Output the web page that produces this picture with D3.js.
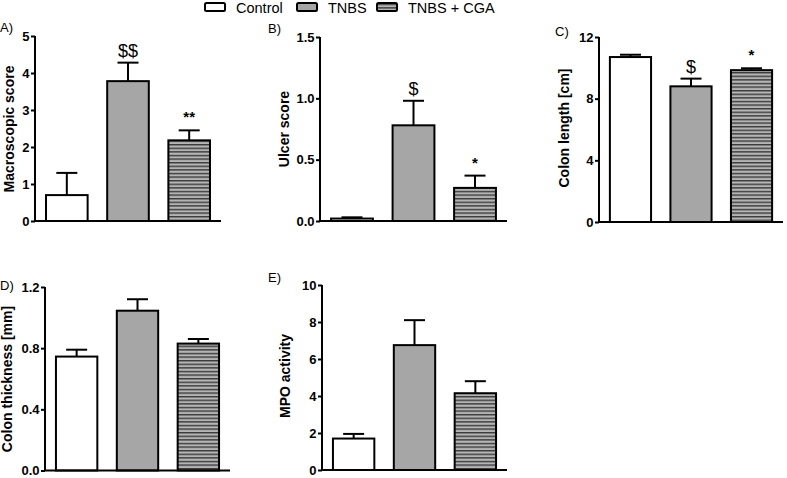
<!DOCTYPE html>
<html><head><meta charset="utf-8">
<script src="https://cdn.jsdelivr.net/npm/d3@7"></script>
<style>
body{margin:0;background:#fff;}
svg{display:block;font-family:"Liberation Sans",Arial,sans-serif;}
</style></head>
<body><svg id="c" width="787" height="478"></svg>
<script>
// ---- data ----
const groups = ["Control", "TNBS", "TNBS + CGA"];

const macroMean = [0.70, 3.78, 2.18];
const macroErr  = [0.60, 0.50, 0.27];
const macroMarks = ["", "$$", "**"];
const macroTicks = [0, 1, 2, 3, 4, 5];

const ulcerMean = [0.02, 0.78, 0.27];
const ulcerErr  = [0.01, 0.20, 0.10];
const ulcerMarks = ["", "$", "*"];
const ulcerTicks = [0, 0.5, 1.0, 1.5];

const lengthMean = [10.70, 8.80, 9.85];
const lengthErr  = [0.15, 0.50, 0.12];
const lengthMarks = ["", "$", "*"];
const lengthTicks = [0, 4, 8, 12];

const thickMean = [0.745, 1.045, 0.830];
const thickErr  = [0.045, 0.075, 0.030];
const thickMarks = ["", "", ""];
const thickTicks = [0, 0.4, 0.8, 1.2];

const mpoMean = [1.70, 6.75, 4.15];
const mpoErr  = [0.25, 1.35, 0.65];
const mpoMarks = ["", "", ""];
const mpoTicks = [0, 2, 4, 6, 8, 10];

const panelLabels = ["A)", "B)", "C)", "D)", "E)"];
const yTitles = ["Macroscopic score", "Ulcer score", "Colon length [cm]", "Colon thickness [mm]", "MPO activity"];

// ---- drawing ----
const svg = d3.select("#c");
const defs = svg.append("defs");
const pat = defs.append("pattern").attr("id","hatch").attr("patternUnits","userSpaceOnUse")
  .attr("width", 10).attr("height", 3.6);
pat.append("rect").attr("width",10).attr("height",3.6).attr("fill","#b4b4b4");
pat.append("rect").attr("y",0).attr("width",10).attr("height",1.4).attr("fill","#3a3a3a");

const fills = ["#ffffff", "#a6a6a6", "url(#hatch)"];

const panels = [
  {mean: macroMean, err: macroErr, marks: macroMarks, ticks: macroTicks, fmt: d3.format("d"),
   x0: 35, x1: 221, yTop: 36, yBot: 221, lab:[0,32], title:[14,129]},
  {mean: ulcerMean, err: ulcerErr, marks: ulcerMarks, ticks: ulcerTicks, fmt: d3.format(".1f"),
   x0: 320, x1: 507, yTop: 37, yBot: 221, lab:[268,33], title:[289,129]},
  {mean: lengthMean, err: lengthErr, marks: lengthMarks, ticks: lengthTicks, fmt: d3.format("d"),
   x0: 599, x1: 783, yTop: 37, yBot: 222, lab:[555,36], title:[569,128]},
  {mean: thickMean, err: thickErr, marks: thickMarks, ticks: thickTicks, fmt: d3.format(".1f"),
   x0: 45, x1: 230, yTop: 287, yBot: 470.5, lab:[0,290], title:[12,379]},
  {mean: mpoMean, err: mpoErr, marks: mpoMarks, ticks: mpoTicks, fmt: d3.format("d"),
   x0: 322, x1: 507, yTop: 285, yBot: 470, lab:[268,282], title:[290,376]}
];

panels.forEach((p, i) => {
  const g = svg.append("g");
  const x = d3.scaleBand().domain(groups).range([p.x0, p.x1]).paddingInner(0.32).paddingOuter(0.18);
  const y = d3.scaleLinear().domain([0, d3.max(p.ticks)]).range([p.yBot, p.yTop]);

  // error bars
  groups.forEach((k, j) => {
    const cx = x(k) + x.bandwidth()/2;
    const top = p.mean[j] + p.err[j];
    g.append("line").attr("x1",cx).attr("x2",cx).attr("y1",y(p.mean[j])).attr("y2",y(top))
      .attr("stroke","#000").attr("stroke-width",2);
    g.append("line").attr("x1",cx-10.5).attr("x2",cx+10.5).attr("y1",y(top)).attr("y2",y(top))
      .attr("stroke","#000").attr("stroke-width",2);
    if (p.marks[j]) {
      const big = p.marks[j].includes("$");
      g.append("text").attr("x",cx).attr("y", y(top) - (big ? 6 : 8))
        .attr("text-anchor","middle").attr("font-size", big ? 18 : 15)
        .attr("font-weight", big ? "normal" : "bold").text(p.marks[j]);
    }
  });

  // bars
  g.selectAll("rect.bar").data(groups).join("rect").attr("class","bar")
    .attr("x", d => x(d)).attr("width", x.bandwidth())
    .attr("y", (d, j) => y(p.mean[j])).attr("height", (d, j) => p.yBot - y(p.mean[j]))
    .attr("fill", (d, j) => fills[j]).attr("stroke","#000").attr("stroke-width",2);

  // y axis
  const ax = g.append("g").attr("transform",`translate(${p.x0},0)`)
    .call(d3.axisLeft(y).tickValues(p.ticks).tickFormat(p.fmt).tickSize(4).tickPadding(1.5));
  ax.select(".domain").attr("d", `M0,${p.yTop}V${p.yBot}`).attr("stroke-width",2);
  ax.selectAll(".tick line").attr("stroke-width",2);
  ax.selectAll(".tick text").attr("font-size",13).attr("font-weight","bold")
    .attr("font-family","Liberation Sans, Arial, sans-serif").attr("fill","#000");

  // x axis baseline
  g.append("line").attr("x1",p.x0-1).attr("x2",p.x1).attr("y1",p.yBot).attr("y2",p.yBot)
    .attr("stroke","#000").attr("stroke-width",2);

  // titles
  g.append("text").attr("transform",`translate(${p.title[0]},${p.title[1]}) rotate(-90)`)
    .attr("text-anchor","middle").attr("font-size",14).attr("font-weight","bold").text(yTitles[i]);
  g.append("text").attr("x",p.lab[0]).attr("y",p.lab[1]).attr("font-size",13).text(panelLabels[i]);
});

// legend
const legX = [205, 297, 377];
const legG = svg.append("g");
groups.forEach((k, j) => {
  legG.append("rect").attr("x", legX[j]).attr("y", 3).attr("width", 20).attr("height", 8)
    .attr("rx", 1.5).attr("fill", fills[j]).attr("stroke","#000").attr("stroke-width",2);
  legG.append("text").attr("x", legX[j] + 31).attr("y", 12.5).attr("font-size", 14.5).text(k);
});
</script></body></html>
